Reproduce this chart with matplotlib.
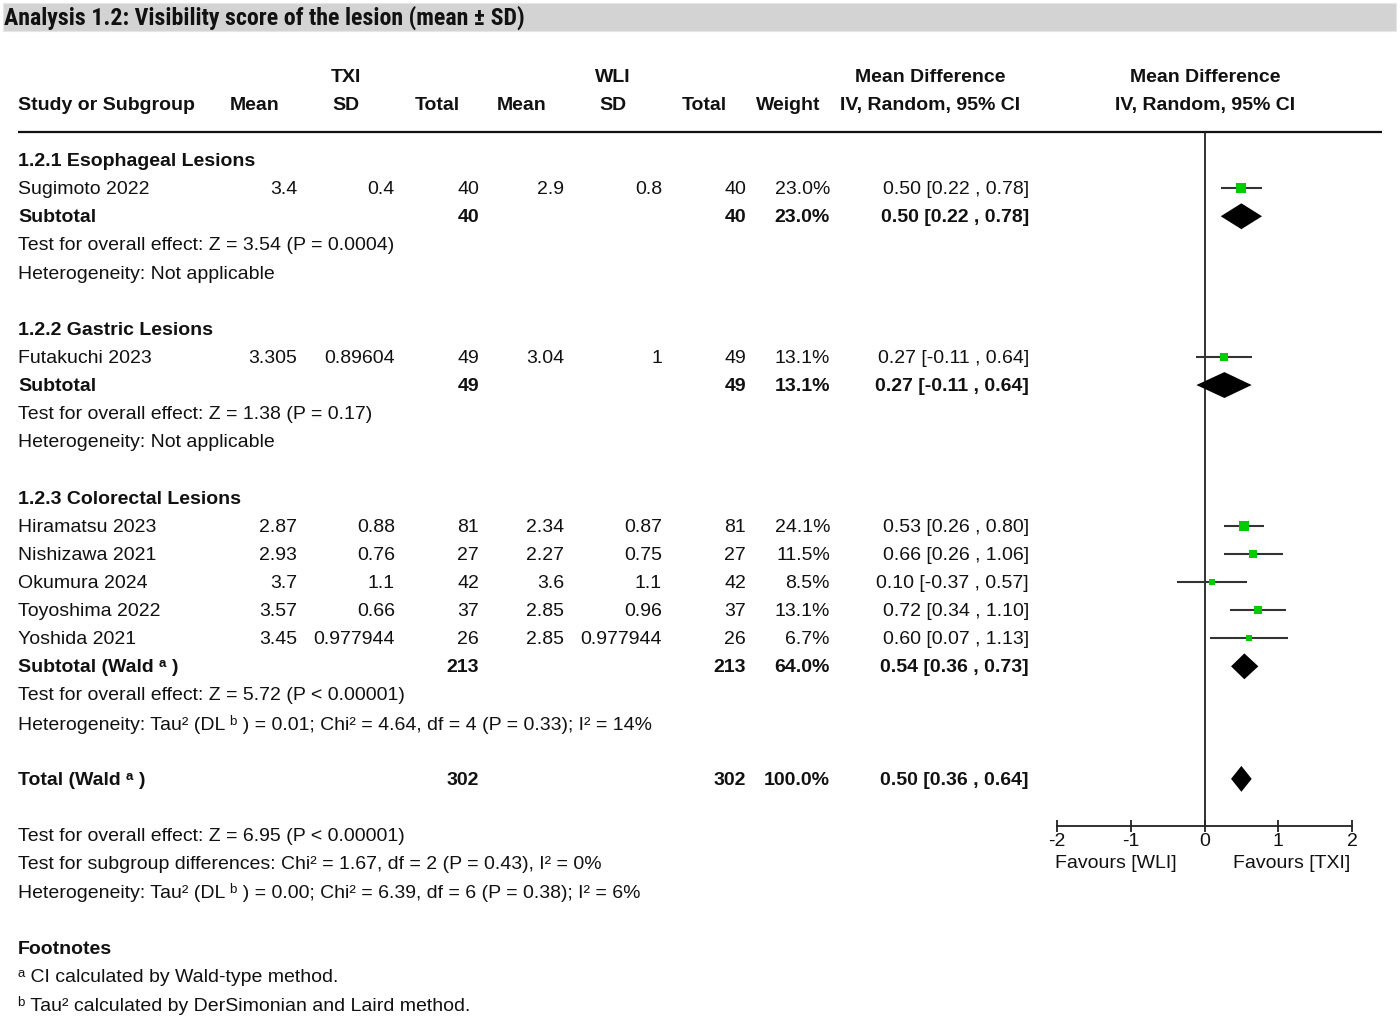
import matplotlib
matplotlib.use("Agg")
import matplotlib.pyplot as plt
from matplotlib.patches import Rectangle
import numpy as np

plt.rcParams['font.family'] = ['Liberation Sans', 'DejaVu Sans']

# ---------------- data ----------------
studies = ["Sugimoto 2022", "Futakuchi 2023", "Hiramatsu 2023", "Nishizawa 2021",
           "Okumura 2024", "Toyoshima 2022", "Yoshida 2021"]
txi_mean = ["3.4", "3.305", "2.87", "2.93", "3.7", "3.57", "3.45"]
txi_sd = ["0.4", "0.89604", "0.88", "0.76", "1.1", "0.66", "0.977944"]
txi_n = [40, 49, 81, 27, 42, 37, 26]
wli_mean = ["2.9", "3.04", "2.34", "2.27", "3.6", "2.85", "2.85"]
wli_sd = ["0.8", "1", "0.87", "0.75", "1.1", "0.96", "0.977944"]
wli_n = [40, 49, 81, 27, 42, 37, 26]
weights = [23.0, 13.1, 24.1, 11.5, 8.5, 13.1, 6.7]
md = [0.50, 0.27, 0.53, 0.66, 0.10, 0.72, 0.60]
ci_lo = [0.22, -0.11, 0.26, 0.26, -0.37, 0.34, 0.07]
ci_hi = [0.78, 0.64, 0.80, 1.06, 0.57, 1.10, 1.13]
study_rows = [1, 7, 13, 14, 15, 16, 17]

sub_headers = ["1.2.1 Esophageal Lesions", "1.2.2 Gastric Lesions", "1.2.3 Colorectal Lesions"]
sub_header_rows = [0, 6, 12]
sub_labels = ["Subtotal", "Subtotal", "Subtotal (Wald ᵃ )", "Total (Wald ᵃ )"]
sub_rows = [2, 8, 18, 22]
sub_txi_n = [40, 49, 213, 302]
sub_wli_n = [40, 49, 213, 302]
sub_weight = [23.0, 13.1, 64.0, 100.0]
sub_md = [0.50, 0.27, 0.54, 0.50]
sub_lo = [0.22, -0.11, 0.36, 0.36]
sub_hi = [0.78, 0.64, 0.73, 0.64]

info_texts = [
    "Test for overall effect: Z = 3.54 (P = 0.0004)",
    "Heterogeneity: Not applicable",
    "Test for overall effect: Z = 1.38 (P = 0.17)",
    "Heterogeneity: Not applicable",
    "Test for overall effect: Z = 5.72 (P < 0.00001)",
    "Heterogeneity: Tau² (DL ᵇ ) = 0.01; Chi² = 4.64, df = 4 (P = 0.33); I² = 14%",
    "Test for overall effect: Z = 6.95 (P < 0.00001)",
    "Test for subgroup differences: Chi² = 1.67, df = 2 (P = 0.43), I² = 0%",
    "Heterogeneity: Tau² (DL ᵇ ) = 0.00; Chi² = 6.39, df = 6 (P = 0.38); I² = 6%",
]
info_rows = [3, 4, 9, 10, 19, 20, 24, 25, 26]

footnotes = ["ᵃ CI calculated by Wald-type method.",
             "ᵇ Tau² calculated by DerSimonian and Laird method."]

title = "Analysis 1.2: Visibility score of the lesion (mean ± SD)"
xticks = [-2, -1, 0, 1, 2]
favours = ["Favours [WLI]", "Favours [TXI]"]

# ---------------- layout ----------------
W, H = 1400, 1019
fig = plt.figure(figsize=(14, 10.19), dpi=100)
ax = fig.add_axes([0, 0, 1, 1])
ax.set_xlim(0, W)
ax.set_ylim(H, 0)
ax.axis('off')

ROW0, DY = 160.0, 28.13
TOFF = 1.5  # text baseline nudge
def ry(k):
    return ROW0 + DY * k
def ty(k):
    return ry(k) + TOFF

FS = 14.0
BLACK = '#111111'

# title bar
ax.add_patch(Rectangle((3, 3), 1393, 28, facecolor='#d3d3d3', edgecolor='#e6e6e6', lw=0.8))
ax.text(4, 18, title, fontsize=17.2, fontweight='bold', va='center', ha='left',
        family=['Liberation Sans Narrow', 'Roboto Condensed', 'Open Sans Condensed', 'Liberation Sans', 'DejaVu Sans'],
        color=BLACK)

# header
for txt, x in [("TXI", 346), ("WLI", 613), ("Mean Difference", 930), ("Mean Difference", 1205)]:
    ax.text(x, ty(-3), txt, fontsize=FS, fontweight='bold', ha='center', va='center', color=BLACK)
ax.text(18, ty(-2), "Study or Subgroup", fontsize=FS, fontweight='bold', ha='left', va='center', color=BLACK)
for txt, x in [("Mean", 255), ("SD", 346), ("Total", 437), ("Mean", 522), ("SD", 613),
               ("Total", 704), ("Weight", 788), ("IV, Random, 95% CI", 930), ("IV, Random, 95% CI", 1205)]:
    ax.text(x, ty(-2), txt, fontsize=FS, fontweight='bold', ha='center', va='center', color=BLACK)
ax.plot([18, 1382], [131.5, 131.5], color=BLACK, lw=1.6, solid_capstyle='butt')

col_right = dict(tm=297, tsd=395, tn=479, wm=564, wsd=662, wn=746, w=830, ci=1029)

def fmt_ci(m, l, h):
    return f"{m:.2f} [{l:.2f} , {h:.2f}]"

for h, k in zip(sub_headers, sub_header_rows):
    ax.text(18, ty(k), h, fontsize=FS, fontweight='bold', ha='left', va='center', color=BLACK)

for i, s in enumerate(studies):
    y = ty(study_rows[i])
    ax.text(18, y, s, fontsize=FS, ha='left', va='center', color=BLACK)
    vals = [(txi_mean[i], 'tm'), (txi_sd[i], 'tsd'), (str(txi_n[i]), 'tn'),
            (wli_mean[i], 'wm'), (wli_sd[i], 'wsd'), (str(wli_n[i]), 'wn'),
            (f"{weights[i]:.1f}%", 'w'), (fmt_ci(md[i], ci_lo[i], ci_hi[i]), 'ci')]
    for v, c in vals:
        ax.text(col_right[c], y, v, fontsize=FS, ha='right', va='center', color=BLACK)

for i, lab in enumerate(sub_labels):
    y = ty(sub_rows[i])
    ax.text(18, y, lab, fontsize=FS, fontweight='bold', ha='left', va='center', color=BLACK)
    vals = [(str(sub_txi_n[i]), 'tn'), (str(sub_wli_n[i]), 'wn'),
            (f"{sub_weight[i]:.1f}%", 'w'), (fmt_ci(sub_md[i], sub_lo[i], sub_hi[i]), 'ci')]
    for v, c in vals:
        ax.text(col_right[c], y, v, fontsize=FS, fontweight='bold', ha='right', va='center', color=BLACK)

for t, k in zip(info_texts, info_rows):
    ax.text(18, ty(k), t, fontsize=FS, ha='left', va='center', color=BLACK)

ax.text(18, ty(28), "Footnotes", fontsize=FS, fontweight='bold', ha='left', va='center', color=BLACK)
for j, f in enumerate(footnotes):
    ax.text(18, ty(29 + j), f, fontsize=FS, ha='left', va='center', color=BLACK)

# ---------------- forest plot ----------------
x0p, x1p = 1057, 1352
top_p, bot_p = 131.5, 826
axf = fig.add_axes([x0p / W, (H - bot_p) / H, (x1p - x0p) / W, (bot_p - top_p) / H])
axf.set_xlim(-2, 2)
axf.set_ylim((bot_p - ROW0) / DY, (top_p - ROW0) / DY)
axf.patch.set_alpha(0)
for sp in ['top', 'left', 'right']:
    axf.spines[sp].set_visible(False)
axf.spines['bottom'].set_linewidth(1.3)
axf.spines['bottom'].set_color('#222222')
axf.set_yticks([])
axf.set_xticks(xticks)
axf.set_xticklabels([str(t) for t in xticks], fontsize=FS)
axf.tick_params(axis='x', direction='inout', length=9, width=1.3, pad=0.8, colors='#222222', labelcolor=BLACK)
axf.axvline(0, color='#222222', lw=1.3)

for i in range(len(studies)):
    k = study_rows[i]
    axf.plot([ci_lo[i], ci_hi[i]], [k, k], color='#333333', lw=1.5, solid_capstyle='butt', clip_on=False)
    axf.plot([md[i]], [k], marker='s', linestyle='none', color='#00cc00',
             markersize=1.55 * np.sqrt(weights[i]), markeredgewidth=0, clip_on=False, zorder=3)

half_h = 0.46
for i in range(len(sub_labels)):
    k = sub_rows[i]
    axf.fill([sub_lo[i], sub_md[i], sub_hi[i], sub_md[i]],
             [k, k - half_h, k, k + half_h], color='black', lw=0, zorder=3)

ax.text(1116, 864, favours[0], fontsize=FS, ha='center', va='center', color=BLACK)
ax.text(1292, 864, favours[1], fontsize=FS, ha='center', va='center', color=BLACK)

fig.savefig("out.png", dpi=100, facecolor='white')
